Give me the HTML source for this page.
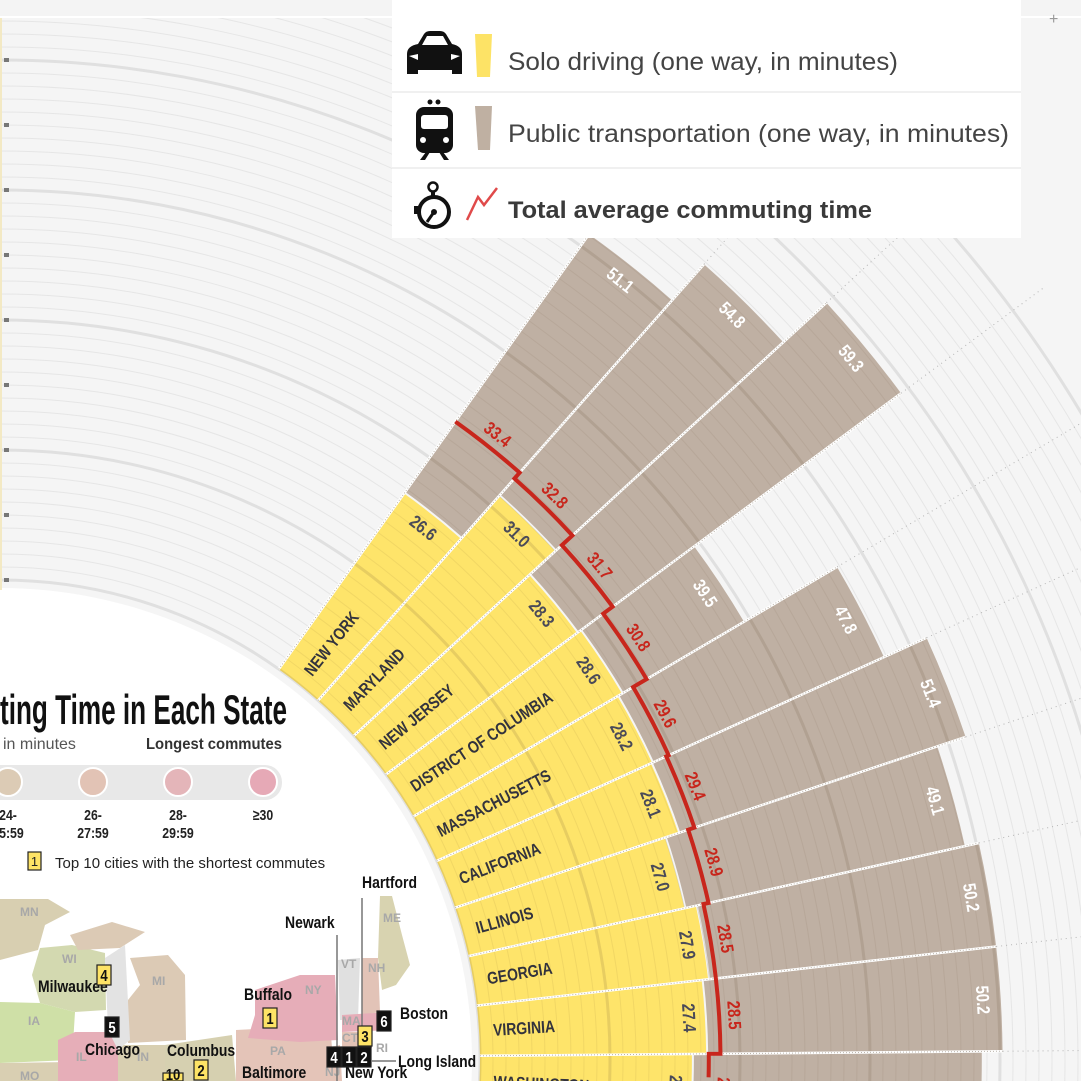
<!DOCTYPE html>
<html><head><meta charset="utf-8">
<style>
html,body{margin:0;padding:0;background:#f5f5f5;width:1081px;height:1081px;overflow:hidden;}
svg{display:block;overflow:hidden;}
text{font-family:"Liberation Sans",sans-serif;}
.cond{font-family:"Liberation Sans Narrow","Liberation Sans",sans-serif;font-weight:bold;}
</style></head>
<body>
<svg id="chart" width="1081" height="1081" viewBox="0 0 1081 1081" xmlns="http://www.w3.org/2000/svg">
  <rect x="0" y="0" width="1081" height="1081" fill="#f5f5f5"/>
  <g id="grid"></g>
  <path d="M0 588 A472 472 0 0 1 471.5 1081 L0 1081 Z" fill="#ffffff"/>
  <g id="bars"></g>
  <g id="overgrid"></g>
  <g id="labels"></g>
  <rect x="0" y="0" width="1081" height="16" fill="#f4f4f4"/>
  <line x1="0" y1="17" x2="1081" y2="17" stroke="#ffffff" stroke-width="2"/>
  <text x="1049" y="24" font-size="16" fill="#999">+</text>
  <line x1="1" y1="18" x2="1" y2="590" stroke="#f3e9c4" stroke-width="2"/>
  <g id="ticks"></g>

  <g>
    <rect x="392" y="0" width="629" height="238" fill="#ffffff"/>
    <line x1="392" y1="92" x2="1021" y2="92" stroke="#f0f0f0" stroke-width="2"/>
    <line x1="392" y1="168" x2="1021" y2="168" stroke="#f0f0f0" stroke-width="2"/>
    <g fill="#111">
      <path d="M418 44 L424 34 Q426 31 430 31 L440 31 Q444 31 446 34 L452 44 Q462 46 462 54 L462 74 L452 74 L452 70 L418 70 L418 74 L407 74 L407 54 Q407 46 418 44 Z"/>
      <path d="M422 45 L427 36 L443 36 L448 45 Z" fill="#fff"/>
      <path d="M409 56 L418 54 L418 60 Z M460 56 L451 54 L451 60 Z" fill="#fff"/>
    </g>
    <path d="M475 34 L492 34 L490 77 L477 77 Z" fill="#fde366"/>
    <text x="508" y="70" font-size="25" fill="#444" textLength="390" lengthAdjust="spacingAndGlyphs">Solo driving (one way, in minutes)</text>
    <g fill="#111">
      <circle cx="430" cy="102" r="2.5"/><circle cx="438" cy="102" r="2.5"/>
      <rect x="416" y="107" width="37" height="46" rx="8"/>
      <rect x="421" y="115" width="27" height="14" rx="3" fill="#fff"/>
      <circle cx="423" cy="140" r="3" fill="#fff"/><circle cx="446" cy="140" r="3" fill="#fff"/>
      <path d="M420 160 L426 152 L430 152 L425 160 Z M449 160 L443 152 L439 152 L444 160 Z"/>
    </g>
    <path d="M475 106 L492 106 L490 150 L478 150 Z" fill="#bfb0a2"/>
    <text x="508" y="142" font-size="25" fill="#444" textLength="501" lengthAdjust="spacingAndGlyphs">Public transportation (one way, in minutes)</text>
    <g>
      <circle cx="433" cy="187" r="4.5" fill="none" stroke="#111" stroke-width="2.5"/>
      <rect x="431" y="191" width="4" height="5" fill="#111"/>
      <circle cx="434" cy="212" r="15" fill="none" stroke="#111" stroke-width="4"/>
      <line x1="434" y1="212" x2="427" y2="222" stroke="#111" stroke-width="3"/>
      <circle cx="434" cy="212" r="3" fill="#111"/>
      <rect x="414" y="206" width="4" height="8" fill="#111"/>
    </g>
    <path d="M467 220 L478 197 L484 205 L497 188" fill="none" stroke="#e04a4a" stroke-width="2.5"/>
    <text x="508" y="218" font-size="24" font-weight="bold" fill="#3a3a3a" textLength="364" lengthAdjust="spacingAndGlyphs">Total average commuting time</text>
  </g>

  <g>
    <text x="0" y="724" font-size="42" font-weight="bold" fill="#111" textLength="287" lengthAdjust="spacingAndGlyphs" class="cond">ting Time in Each State</text>
    <text x="3" y="749" font-size="16" fill="#555">in minutes</text>
    <text x="146" y="749" font-size="16" fill="#333" class="cond" textLength="136" lengthAdjust="spacingAndGlyphs">Longest commutes</text>
    <rect x="0" y="765" width="282" height="35" rx="17" fill="#e8e8e8"/>
    <rect x="0" y="765" width="30" height="35" fill="#e8e8e8"/>
    <circle cx="8" cy="782" r="14" fill="#dccbb5" stroke="#fff" stroke-width="2"/>
    <circle cx="93" cy="782" r="14" fill="#e2c3b5" stroke="#fff" stroke-width="2"/>
    <circle cx="178" cy="782" r="14" fill="#e4b5b9" stroke="#fff" stroke-width="2"/>
    <circle cx="263" cy="782" r="14" fill="#e6a9b6" stroke="#fff" stroke-width="2"/>
    <g font-size="15" fill="#222" class="cond" text-anchor="middle">
      <text x="8" y="820">24-</text><text x="8" y="838">25:59</text>
      <text x="93" y="820">26-</text><text x="93" y="838">27:59</text>
      <text x="178" y="820">28-</text><text x="178" y="838">29:59</text>
      <text x="263" y="820">≥30</text>
    </g>
    <rect x="28" y="852" width="13" height="18" fill="#fde366" stroke="#222" stroke-width="1.2"/>
    <text x="34.5" y="866" font-size="13" text-anchor="middle" fill="#222">1</text>
    <text x="55" y="868" font-size="15" fill="#222">Top 10 cities with the shortest commutes</text>
  </g>

  <g>
    <path d="M0 899 L48 899 L70 912 L45 925 L38 950 L0 960 Z" fill="#d8cfb1"/>
    <path d="M40 948 L72 945 L105 953 L106 1010 L75 1012 L40 1003 L32 975 Z" fill="#d3d9b0"/>
    <path d="M0 1002 L40 1003 L75 1012 L72 1060 L0 1063 Z" fill="#cfe0a7"/>
    <path d="M0 1063 L72 1062 L72 1081 L0 1081 Z" fill="#d9cfb2"/>
    <path d="M75 1032 L118 1032 L118 1081 L58 1081 L58 1040 Z" fill="#e6aeb8"/>
    <path d="M118 1045 L165 1045 L165 1081 L118 1081 Z" fill="#d8cfb1"/>
    <path d="M165 1045 L232 1035 L236 1081 L165 1081 Z" fill="#d6d0b0"/>
    <path d="M130 958 L168 955 L185 975 L186 1040 L128 1043 L128 1000 L140 985 Z" fill="#dccab5"/>
    <path d="M70 935 L112 922 L145 932 L120 948 L78 950 Z" fill="#dccab5"/>
    <path d="M105 958 L125 945 L130 1040 L118 1050 L108 1030 Z" fill="#e3e3e3"/>
    <path d="M236 1030 L330 1025 L335 1081 L236 1081 Z" fill="#e4c4b8"/>
    <path d="M255 990 L300 975 L335 975 L338 1040 L300 1042 L248 1038 L255 1015 Z" fill="#e6adb8"/>
    <path d="M338 960 L360 958 L358 1020 L340 1020 Z" fill="#e0e0e0"/>
    <path d="M362 958 L378 958 L380 1012 L362 1015 Z" fill="#e2c3b7"/>
    <path d="M380 896 L392 896 L402 935 L410 965 L396 985 L382 990 L378 958 Z" fill="#d8d3b0"/>
    <path d="M342 1015 L390 1012 L390 1030 L342 1032 Z" fill="#e6adb8"/>
    <path d="M342 1032 L372 1032 L372 1048 L342 1048 Z" fill="#e3c3b6"/>
    <path d="M325 1048 L340 1045 L342 1081 L325 1081 Z" fill="#e4c4b8"/>
    <g font-size="12" font-weight="bold" fill="#a8a8a8">
      <text x="20" y="916">MN</text><text x="62" y="963">WI</text><text x="152" y="985">MI</text>
      <text x="28" y="1025">IA</text><text x="76" y="1061">IL</text><text x="137" y="1061">IN</text>
      <text x="270" y="1055">PA</text><text x="305" y="994">NY</text><text x="341" y="968">VT</text>
      <text x="368" y="972">NH</text><text x="383" y="922">ME</text><text x="342" y="1025">MA</text>
      <text x="342" y="1042">CT</text><text x="376" y="1052">RI</text><text x="325" y="1076">NJ</text>
      <text x="20" y="1080">MO</text>
    </g>
    <g stroke="#777" stroke-width="1.5" fill="none">
      <line x1="337" y1="935" x2="337" y2="1081"/>
      <line x1="362" y1="898" x2="362" y2="1028"/>
      <line x1="372" y1="1061" x2="396" y2="1061"/>
    </g>
    <g class="cond" font-size="17" fill="#111">
      <text x="362" y="888">Hartford</text><text x="285" y="928">Newark</text>
      <text x="38" y="992">Milwaukee</text><text x="244" y="1000">Buffalo</text>
      <text x="400" y="1019">Boston</text><text x="85" y="1055">Chicago</text>
      <text x="167" y="1056">Columbus</text><text x="398" y="1067">Long Island</text>
      <text x="242" y="1078">Baltimore</text><text x="345" y="1078">New York</text>
    </g>
    <g id="citybadges"></g>
  </g>
</svg>
<script>
// ---- data ----
const states = ["NEW YORK","MARYLAND","NEW JERSEY","DISTRICT OF COLUMBIA","MASSACHUSETTS","CALIFORNIA","ILLINOIS","GEORGIA","VIRGINIA","WASHINGTON"];
const driveVals = [26.6, 31.0, 28.3, 28.6, 28.2, 28.1, 27.0, 27.9, 27.4, 26.3];
const transitVals = [51.1, 54.8, 59.3, 39.5, 47.8, 51.4, 49.1, 50.2, 50.2, 48.6];
const totalVals = [33.4, 32.8, 31.7, 30.8, 29.6, 29.4, 28.9, 28.5, 28.5, 27.6];
const tickVals = [10, 15, 20, 25, 30, 35, 40, 45, 50];

const NS = "http://www.w3.org/2000/svg";
const CX = 0, CY = 1060, R0 = 480, PX = 13, V0 = 10, H = 1081;
const TOP_ANGLE = 54.5, STEP = 6;
function rScale(v){ return R0 + PX * (v - V0); }
function aStart(i){ return TOP_ANGLE - STEP * (i + 1); }
function aEnd(i){ return TOP_ANGLE - STEP * i; }
function aMid(i){ return TOP_ANGLE - STEP * (i + 0.5); }
function pt(r, a){ const t = a * Math.PI / 180; return [CX + r * Math.cos(t), CY - r * Math.sin(t)]; }
function f(p){ return p[0].toFixed(2) + " " + p[1].toFixed(2); }
function minA(r){ return -Math.asin(Math.min(1, (H - CY) / r)) * 180 / Math.PI; }
function sector(r0, r1, a0, a1){
  const b0 = Math.max(a0, minA(r0)), b1 = Math.max(a0, minA(r1));
  return "M" + f(pt(r0, b0)) + " L" + f(pt(r1, b1)) + " A" + r1 + " " + r1 + " 0 0 0 " + f(pt(r1, a1)) +
         " L" + f(pt(r0, a1)) + " A" + r0 + " " + r0 + " 0 0 1 " + f(pt(r0, b0)) + " Z";
}
function arcPath(r){
  const a0 = minA(r), a1 = 90;
  return "M" + f(pt(r, a0)) + " A" + r + " " + r + " 0 0 0 " + f(pt(r, a1));
}
function mk(tag, attrs, parent){
  const el = document.createElementNS(NS, tag);
  for (const k in attrs) el.setAttribute(k, attrs[k]);
  parent.appendChild(el);
  return el;
}

const grid = document.getElementById("grid");
for (let v = 10; v <= 70; v++) {
  const heavy = v % 10 === 0;
  const c = mk("path", {d: arcPath(rScale(v)), fill: "none",
    stroke: heavy ? "#e0e0e0" : "#e6e6e6", "stroke-width": heavy ? 3 : 1}, grid);
  
  
}

const tg = document.getElementById("ticks");
tickVals.forEach(v => {
  const t = mk("rect", {x: 4, y: CY - rScale(v) - 2, width: 5, height: 4, fill: "#777"}, tg);
  
  
});

const bars = document.getElementById("bars");
const labels = document.getElementById("labels");
states.forEach((s, i) => {
  const a0 = aStart(i), a1 = aEnd(i);
  const ry = rScale(driveVals[i]), rb = rScale(transitVals[i]);
  const y = mk("path", {d: sector(R0, ry, a0, a1), fill: "#fee46a"}, bars);
  
  
  const b = mk("path", {d: sector(ry + 2, rb, a0, a1), fill: "#bfb0a3"}, bars);
  
  
});

const og = document.getElementById("overgrid");
const defs = mk("defs", {}, og);
const cp = mk("clipPath", {id: "barclip"}, defs);
states.forEach((s, i) => {
  mk("path", {d: sector(R0, rScale(transitVals[i]), aStart(i), aEnd(i))}, cp);
});
const ogg = mk("g", {"clip-path": "url(#barclip)"}, og);
for (let v = 10; v <= 60; v++) {
  const heavy = v % 10 === 0;
  const c = mk("path", {d: arcPath(rScale(v)), fill: "none",
    stroke: "rgba(90,70,40," + (heavy ? 0.14 : 0.08) + ")", "stroke-width": heavy ? 3 : 1}, ogg);
  
  
}

for (let i = 0; i <= states.length; i++) {
  const a = TOP_ANGLE - STEP * i;
  if (a < 0) continue;
  const rmax = Math.max(i > 0 ? rScale(transitVals[i - 1]) : 0, i < states.length ? rScale(transitVals[i]) : 0);
  const w = mk("line", {x1: pt(R0, a)[0], y1: pt(R0, a)[1], x2: pt(rmax, a)[0], y2: pt(rmax, a)[1],
    stroke: "#ffffff", "stroke-width": 2.5}, og);
  
  
  const d = mk("line", {x1: pt(R0, a)[0], y1: pt(R0, a)[1], x2: pt(rmax, a)[0], y2: pt(rmax, a)[1],
    stroke: "#b9b2a8", "stroke-width": 1, "stroke-dasharray": "1 2"}, og);
  
  
  const e = mk("line", {x1: pt(rmax, a)[0], y1: pt(rmax, a)[1], x2: pt(1300, a)[0], y2: pt(1300, a)[1],
    stroke: "#b5b5b5", "stroke-width": 1, "stroke-dasharray": "1 4"}, og);
  
  
}

let d = "";
states.forEach((s, i) => {
  const r = rScale(totalVals[i]);
  const p0 = pt(r, aEnd(i)), p1 = pt(r, Math.max(aStart(i), minA(r) + 0.3));
  d += (i === 0 ? "M" : " L") + f(p0) + " A" + r + " " + r + " 0 0 1 " + f(p1);
});
const line = mk("path", {d: d, fill: "none", stroke: "#c8261c", "stroke-width": 4, "stroke-linejoin": "miter"}, labels);



function rotText(txt, r, a, rot, attrs, name){
  const p = pt(r, a);
  const t = mk("text", Object.assign({transform: "translate(" + p[0].toFixed(2) + "," + p[1].toFixed(2) + ") rotate(" + rot + ")"}, attrs), labels);
  t.textContent = txt;
  
  
  return t;
}
states.forEach((s, i) => {
  const am = aMid(i);
  rotText(s, R0 + 14, am, -am, {x: 0, y: 6, "font-size": 17, fill: "#33333d", class: "cond"}, 'state-label');
  rotText(driveVals[i].toFixed(1), rScale(driveVals[i]) - 16, am, 90 - am,
    {x: 0, y: 0, "font-size": 18, fill: "#4a4a58", "text-anchor": "middle", "dominant-baseline": "central", class: "cond"}, 'solo-value');
  rotText(transitVals[i].toFixed(1), rScale(transitVals[i]) - 18, am, 90 - am,
    {x: 0, y: 0, "font-size": 18, fill: "#ffffff", "text-anchor": "middle", "dominant-baseline": "central", class: "cond"}, 'transit-value');
  rotText(totalVals[i].toFixed(1), rScale(totalVals[i]) + 15, am, 90 - am,
    {x: 0, y: 0, "font-size": 18, fill: "#c8261c", "text-anchor": "middle", "dominant-baseline": "central", class: "cond"}, 'total-value');
});

const badges = [["4",97,965,1],["5",105,1017,0],["1",263,1008,1],["2",194,1060,1],["3",358,1026,1],["6",377,1011,0],["4",327,1047,0],["1",342,1047,0],["2",357,1047,0],["10",163,1073,1]];
const bg = document.getElementById("citybadges");
badges.forEach(bd => {
  const hh = Math.min(20, H - bd[2]);
  const r = mk("rect", {x: bd[1], y: bd[2], width: bd[0].length > 1 ? 20 : 14, height: hh,
    fill: bd[3] ? "#fde366" : "#111", stroke: "#222", "stroke-width": 1.2}, bg);
  
  
  const t = mk("text", {x: bd[1] + (bd[0].length > 1 ? 10 : 7), y: Math.min(bd[2] + 16, H - 1), "font-size": 16,
    "text-anchor": "middle", fill: bd[3] ? "#111" : "#fff", class: "cond"}, bg);
  t.textContent = bd[0];
  
  
});

document.querySelectorAll("text.cond, .cond text").forEach(t => {
  if (t.hasAttribute("textLength")) return;
  const w = t.getComputedTextLength();
  if (w > 0) {
    t.setAttribute("textLength", (w * 0.82).toFixed(1));
    t.setAttribute("lengthAdjust", "spacingAndGlyphs");
  }
});
</script>
</body></html>
